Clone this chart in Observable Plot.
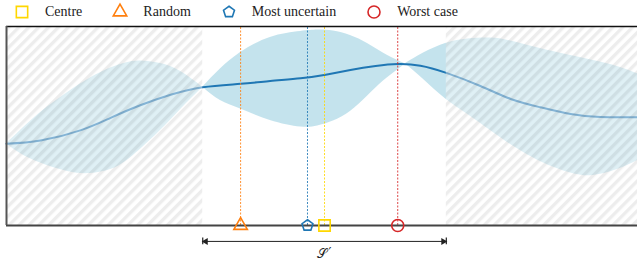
<!DOCTYPE html>
<html><head><meta charset="utf-8">
<script src="https://cdn.jsdelivr.net/npm/d3@7"></script>
<script src="https://cdn.jsdelivr.net/npm/@observablehq/plot@0.6"></script>
<style>
body{margin:0;background:#fff;font-family:"Liberation Serif",serif;}
#legend{height:24px;display:flex;align-items:center;padding-left:14px;font-size:14px;color:#222;box-sizing:border-box;}
.item{display:flex;align-items:center;margin-right:30px;}
.item svg{margin-right:15px;overflow:visible;}
</style></head><body>
<div id="legend"></div>
<div id="chart"></div>
<script>
// ---- data ----
const meanX = [0, 0.54, 1.17, 1.65, 2.12, 2.60, 3.11, 3.71, 4.18, 4.66, 5.06, 5.45, 5.85, 6.20, 6.56, 6.97, 7.51, 7.99, 8.46, 8.94, 9.41, 10];
const meanY = [4.11, 4.27, 4.78, 5.41, 6.04, 6.57, 6.95, 7.12, 7.26, 7.40, 7.58, 7.81, 8.01, 8.11, 8.03, 7.67, 7.01, 6.36, 5.94, 5.60, 5.45, 5.44];
const bandX  = [0, 0.22, 0.54, 0.97, 1.33, 1.65, 1.89, 2.12, 2.44, 2.76, 3.11, 3.39, 3.71, 4.18, 4.66, 4.93, 5.18, 5.45, 5.72, 5.97, 6.20, 6.32, 6.61, 6.97, 7.31, 7.67, 7.99, 8.46, 8.94, 9.30, 9.68, 10];
const bandHi = [4.11, 4.77, 5.68, 6.68, 7.41, 7.91, 8.17, 8.27, 8.14, 7.74, 6.95, 7.86, 8.69, 9.45, 9.75, 9.82, 9.77, 9.55, 9.15, 8.67, 8.29, 8.13, 8.67, 9.16, 9.37, 9.42, 9.27, 8.89, 8.54, 8.29, 7.99, 7.62];
const bandLo = [4.11, 3.62, 3.14, 2.71, 2.61, 2.81, 3.22, 3.82, 4.77, 5.83, 6.95, 6.28, 5.85, 5.28, 4.95, 5.00, 5.25, 5.73, 6.50, 7.25, 7.82, 8.13, 7.34, 6.33, 5.58, 4.77, 4.07, 3.22, 2.64, 2.51, 2.81, 3.27];
const subset = [3.11, 6.97];           // S' bounds
const subsetLabel = "𝒮′";
const methods = ["Centre", "Random", "Most uncertain", "Worst case"];
const picks = [5.04, 3.71, 4.77, 6.20];
const xDomain = [0, 10];
const yDomain = [0, 10];

// ---- style ----
const pentagon = {draw(ctx, size) {
  const R = Math.sqrt(size / 2.3776);
  for (let i = 0; i < 5; i++) {
    const a = -Math.PI / 2 + i * 2 * Math.PI / 5;
    i ? ctx.lineTo(R * Math.cos(a), R * Math.sin(a)) : ctx.moveTo(R * Math.cos(a), R * Math.sin(a));
  }
  ctx.closePath();
}};
const style = {
  "Centre": {color: "#ffd700", symbol: d3.symbolSquare, r: 6.4},
  "Random": {color: "#ff7f0e", symbol: d3.symbolTriangle, r: 5},
  "Most uncertain": {color: "#1f77b4", symbol: pentagon, r: 5},
  "Worst case": {color: "#d62728", symbol: d3.symbolCircle, r: 6}
};

// ---- legend ----
const legend = d3.select("#legend");
methods.forEach(m => {
  const s = style[m];
  const it = legend.append("div").attr("class", "item");
  const svg = it.append("svg").attr("width", 16).attr("height", 16);
  svg.append("path").attr("transform", "translate(8,8)")
    .attr("d", d3.symbol().type(s.symbol).size(Math.PI * s.r * s.r)())
    .attr("fill", "none").attr("stroke", s.color).attr("stroke-width", 1.6);
  it.append("span").text(m);
});

// ---- chart ----
const mean = meanX.map((x, i) => ({x, y: meanY[i]}));
// split band into segments at the pinch points (where hi == lo)
const band = [];
let seg = 0;
bandX.forEach((x, i) => {
  band.push({x, lo: bandLo[i], hi: bandHi[i], seg});
  if (i > 0 && i < bandX.length - 1 && bandHi[i] === bandLo[i]) {
    seg++;
    band.push({x, lo: bandLo[i], hi: bandHi[i], seg});
  }
});
const hatch = [{x1: xDomain[0], x2: subset[0]}, {x1: subset[1], x2: xDomain[1]}];
const pickData = methods.map((m, i) => ({m, x: picks[i]}));
const labelChars = Array.from(subsetLabel);

const marks = [
  Plot.areaY(band, {x: "x", y1: "lo", y2: "hi", z: "seg", fill: "#add8e6", fillOpacity: 0.72, curve: "natural"}),
  Plot.line(mean, {x: "x", y: "y", stroke: "#1f77b4", strokeWidth: 2, curve: "natural"}),
  Plot.rect(hatch, {x1: "x1", x2: "x2", y1: yDomain[0], y2: yDomain[1], fill: "url(#hatch)"}),
  Plot.ruleX(pickData, {x: "x", y1: yDomain[0], y2: yDomain[1], stroke: d => style[d.m].color, strokeWidth: 1, strokeOpacity: 0.85, strokeDasharray: "2,1.5"}),
  Plot.ruleY([yDomain[1]], {stroke: "#111", strokeWidth: 1.5}),
  Plot.ruleY([yDomain[0]], {stroke: "#444", strokeWidth: 2}),
  Plot.ruleX([xDomain[0]], {stroke: "#555", strokeWidth: 2}),
  ...pickData.map(d => Plot.dot([d], {x: "x", y: yDomain[0], symbol: style[d.m].symbol, r: style[d.m].r, stroke: style[d.m].color, strokeWidth: 1.6, fill: "none"})),
  // S' span annotation
  Plot.ruleY([-0.8], {x1: subset[0], x2: subset[1], stroke: "#222", strokeWidth: 1}),
  Plot.ruleX(subset, {y1: -0.63, y2: -0.97, stroke: "#222", strokeWidth: 1.2}),
  Plot.dot([subset[0]], {x: d => d, y: -0.8, symbol: "triangle", r: 2.6, fill: "#222", rotate: -90, dx: 3}),
  Plot.dot([subset[1]], {x: d => d, y: -0.8, symbol: "triangle", r: 2.6, fill: "#222", rotate: 90, dx: -3}),
  Plot.text([labelChars[0]], {x: (subset[0] + subset[1]) / 2, y: -1.4, text: d => d, fontSize: 13, fill: "#222", dx: -3}),
  Plot.text([labelChars[1]], {x: (subset[0] + subset[1]) / 2, y: -1.4, text: d => d, fontSize: 13, fill: "#222", fontFamily: "DejaVu Sans", dx: 5.5, dy: -2})
];

const svg = Plot.plot({
  width: 637, height: 240,
  marginLeft: 6, marginRight: 0, marginTop: 2, marginBottom: 39,
  x: {domain: xDomain, axis: null},
  y: {domain: yDomain, axis: null},
  style: {background: "#fff", overflow: "visible", fontFamily: "'Liberation Serif', serif"},
  marks
});

const defs = d3.select(svg).insert("defs", ":first-child");
const pat = defs.append("pattern").attr("id", "hatch").attr("patternUnits", "userSpaceOnUse")
  .attr("width", 7).attr("height", 7).attr("patternTransform", "rotate(45)");
pat.append("rect").attr("width", 7).attr("height", 7).attr("fill", "#fff").attr("fill-opacity", 0.45);
pat.append("rect").attr("width", 3.3).attr("height", 7).attr("fill", "#000").attr("fill-opacity", 0.07);

document.getElementById("chart").appendChild(svg);
</script>
</body></html>
